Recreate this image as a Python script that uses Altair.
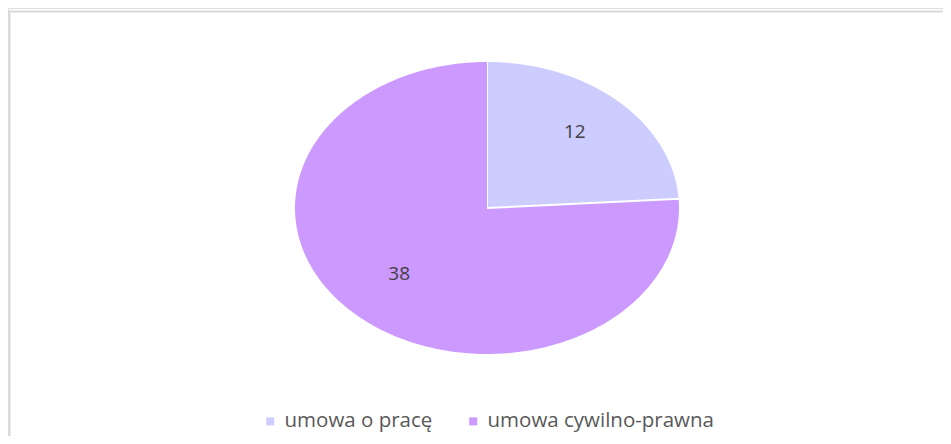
import altair as alt
import pandas as pd

# ---- data ----
categories = ["umowa o pracę", "umowa cywilno-prawna"]
values = [12, 38]
order = [0, 1]
colors = ["#CCCCFF", "#CC99FF"]

df = pd.DataFrame({"kategoria": categories, "wartosc": values, "kolejnosc": order})
frame_df = pd.DataFrame({"f": [0]})

# ---- layout (chart pixels) ----
W, H = 935, 428
cx, cy = 479, 200      # pie centre
rx, ry = 193, 147      # the reference pie is drawn as an ellipse
N = 240                # samples along each slice's outer edge

xs = alt.Scale(domain=[-1, 1], range=[cx - rx, cx + rx], nice=False, zero=False)
ys = alt.Scale(domain=[-1, 1], range=[cy + ry, cy - ry], nice=False, zero=False)

base = alt.Chart(df).transform_joinaggregate(
    total="sum(wartosc)"
).transform_window(
    cum="sum(wartosc)", sort=[alt.SortField("kolejnosc")], frame=[None, 0]
).transform_calculate(
    a0="2*PI*(datum.cum - datum.wartosc)/datum.total",
    a1="2*PI*datum.cum/datum.total",
)

slices = base.transform_calculate(
    k=f"sequence(-1, {N + 1})"
).transform_flatten(["k"]).transform_calculate(
    ang=f"datum.a0 + (datum.a1 - datum.a0) * max(datum.k, 0) / {N}",
    px="datum.k < 0 ? 0 : sin(datum.ang)",
    py="datum.k < 0 ? 0 : cos(datum.ang)",
).mark_line(filled=True, stroke="white", strokeWidth=2, interpolate="linear").encode(
    x=alt.X("px:Q", scale=xs, axis=None),
    y=alt.Y("py:Q", scale=ys, axis=None),
    order=alt.Order("k:Q"),
    fill=alt.Fill(
        "kategoria:N",
        scale=alt.Scale(domain=categories, range=colors),
        sort=categories,
        legend=alt.Legend(
            title=None,
            orient="none",
            legendX=252,
            legendY=403,
            direction="horizontal",
            symbolType="square",
            symbolSize=64,
            symbolStrokeWidth=0,
            labelFont="Open Sans",
            labelFontSize=20.5,
            labelColor="#595959",
            labelLimit=0,
            labelOffset=4,
            columnPadding=30,
        ),
    ),
)

labels = base.transform_calculate(
    am="(datum.a0 + datum.a1) / 2",
    lx="0.665 * sin(datum.am)",
    ly="0.665 * cos(datum.am)",
).mark_text(
    font="Open Sans", fontSize=19, color="#404040", dy=-5, baseline="middle", align="center"
).encode(
    x=alt.X("lx:Q", scale=xs, axis=None),
    y=alt.Y("ly:Q", scale=ys, axis=None),
    text=alt.Text("wartosc:Q"),
)

border_top = alt.Chart(frame_df).mark_rule(color="#d9d9d9", strokeWidth=2).encode(
    x=alt.value(1), x2=alt.value(W), y=alt.value(3.5)
)
border_left = alt.Chart(frame_df).mark_rule(color="#d9d9d9", strokeWidth=2).encode(
    x=alt.value(1.5), y=alt.value(3), y2=alt.value(H)
)

chart = alt.layer(border_top, border_left, slices, labels).properties(
    width=W, height=H, padding=0, autosize=alt.AutoSizeParams(type="none")
).configure_view(stroke=None).configure(background="white")

chart.save("out.html", embed_options={"renderer": "svg", "actions": False})
